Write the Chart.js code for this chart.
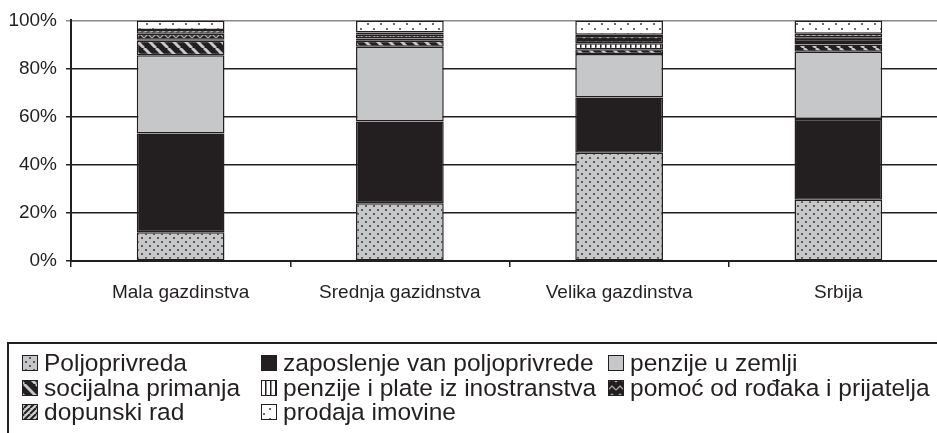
<!DOCTYPE html>
<html>
<head>
<meta charset="utf-8">
<script src="https://cdn.jsdelivr.net/npm/chart.js@4/dist/chart.umd.min.js"></script>
<style>
  html, body { margin: 0; padding: 0; background: #fff; overflow: hidden; }
  canvas { display: block; }
</style>
</head>
<body>
<canvas id="chart" width="950" height="433"></canvas>
<script>
// --- Podaci (procenti, po vrsti gazdinstva) ---
const categories = ['Mala gazdinstva', 'Srednja gazidnstva', 'Velika gazdinstva', 'Srbija'];
const seriesNames = [
    'Poljoprivreda', 'zaposlenje van poljoprivrede', 'penzije u zemlji',
    'socijalna primanja', 'penzije i plate iz inostranstva', 'pomoć od rođaka i prijatelja',
    'dopunski rad', 'prodaja imovine'
];
const poljoprivreda = [12, 24, 45, 25.5];
const zaposlenje = [41, 34, 23, 33.5];
const penzijeZemlja = [32.5, 31, 18, 28];
const socijalna = [6, 2.5, 2, 3];
const inostranstvo = [0.5, 1, 2.5, 1];
const pomoc = [2.5, 1.5, 3, 2];
const dopunski = [1.5, 1, 0.5, 1.5];
const prodaja = [4, 5, 6, 5.5];
const yTicks = [0, 20, 40, 60, 80, 100];

const dark = '#231f20';
const font = "'Liberation Sans', Arial, sans-serif";

// --- Šrafure ---
const makePattern = (w, h, draw) => {
    const c = document.createElement('canvas');
    c.width = w; c.height = h;
    const g = c.getContext('2d');
    draw(g, w, h);
    return g.createPattern(c, 'repeat');
};

const dotsPattern = makePattern(8, 8, (g) => {
    g.fillStyle = '#c6c7c9'; g.fillRect(0, 0, 8, 8);
    g.fillStyle = '#5b5b5d';
    g.fillRect(1, 1, 2, 2); g.fillRect(5, 5, 2, 2);
});
const stripesBack = makePattern(12, 12, (g) => {
    g.fillStyle = dark; g.fillRect(0, 0, 12, 12);
    g.strokeStyle = '#c8c8c8'; g.lineWidth = 3;
    for (let o = -12; o <= 12; o += 12) {
        g.beginPath(); g.moveTo(o, 0); g.lineTo(o + 12, 12); g.stroke();
    }
});
const verticalLines = makePattern(5, 5, (g) => {
    g.fillStyle = '#fff'; g.fillRect(0, 0, 5, 5);
    g.fillStyle = dark; g.fillRect(0, 0, 1.5, 5);
});
const crossPattern = makePattern(8, 8, (g) => {
    g.fillStyle = dark; g.fillRect(0, 0, 8, 8);
    g.strokeStyle = '#b0b0b0'; g.lineWidth = 1.2;
    g.beginPath(); g.moveTo(0, 6); g.lineTo(4, 2); g.lineTo(8, 6); g.stroke();
});
const stripesFwd = makePattern(6, 6, (g) => {
    g.fillStyle = '#d0d0d0'; g.fillRect(0, 0, 6, 6);
    g.strokeStyle = dark; g.lineWidth = 2;
    for (let o = -6; o <= 6; o += 6) {
        g.beginPath(); g.moveTo(o, 6); g.lineTo(o + 6, 0); g.stroke();
    }
});
const sparseDots = makePattern(13, 10, (g) => {
    g.fillStyle = '#fff'; g.fillRect(0, 0, 13, 10);
    g.fillStyle = '#6a6a6a';
    g.fillRect(3, 3, 2, 2); g.fillRect(9, 8, 2, 2);
});

const seriesData = [poljoprivreda, zaposlenje, penzijeZemlja, socijalna, inostranstvo, pomoc, dopunski, prodaja];
const fills = [dotsPattern, dark, '#c6c7c9', stripesBack, verticalLines, crossPattern, stripesFwd, sparseDots];

const datasets = seriesNames.map((name, i) => ({
    label: name,
    data: seriesData[i],
    backgroundColor: fills[i],
    borderColor: dark,
    borderWidth: 1.5,
    borderSkipped: false,
    barPercentage: 0.4,
    categoryPercentage: 1
}));

// --- Legenda u tri kolone ---
const legendPlugin = {
    id: 'gridLegend',
    afterDraw(chart) {
        const g = chart.ctx;
        g.save();
        g.strokeStyle = dark; g.lineWidth = 2;
        g.strokeRect(8, 343, 1000, 200);
        const colBox = [22, 261, 608];
        const rowY = [363, 388, 412];
        g.font = '24.5px ' + font;
        g.textBaseline = 'middle';
        seriesNames.forEach((name, i) => {
            const col = i % 3, row = Math.floor(i / 3);
            const x = colBox[col], y = rowY[row];
            g.fillStyle = fills[i];
            g.fillRect(x, y - 8, 16, 16);
            g.strokeStyle = dark; g.lineWidth = 1;
            g.strokeRect(x + 0.5, y - 7.5, 15, 15);
            g.fillStyle = dark;
            g.fillText(name, x + 22, y + 1);
        });
        g.restore();
    }
};

new Chart(document.getElementById('chart'), {
    type: 'bar',
    data: { labels: categories, datasets: datasets },
    options: {
        responsive: false,
        animation: false,
        layout: { padding: { left: 8, top: 14, right: 2, bottom: 122 } },
        plugins: { legend: { display: false }, tooltip: { enabled: false } },
        scales: {
            x: {
                stacked: true,
                afterFit: (s) => { s.height = 50; },
                border: { color: dark, width: 2 },
                grid: { drawOnChartArea: false, color: dark, lineWidth: 1.5, tickLength: 6 },
                ticks: { color: dark, font: { family: font, size: 19 }, padding: 14 }
            },
            y: {
                stacked: true,
                min: 0, max: 100,
                afterFit: (s) => { s.width = 63; },
                afterBuildTicks: (s) => { s.ticks = yTicks.map(v => ({ value: v })); },
                border: { color: dark, width: 2 },
                grid: {
                    color: (c) => c.tick && c.tick.value === 100 ? '#8a8a8a' : dark,
                    lineWidth: 1.5, tickLength: 5
                },
                ticks: {
                    color: dark, font: { family: font, size: 19 }, padding: 9,
                    callback: (v) => v + '%'
                }
            }
        }
    },
    plugins: [legendPlugin]
});
</script>
</body>
</html>
